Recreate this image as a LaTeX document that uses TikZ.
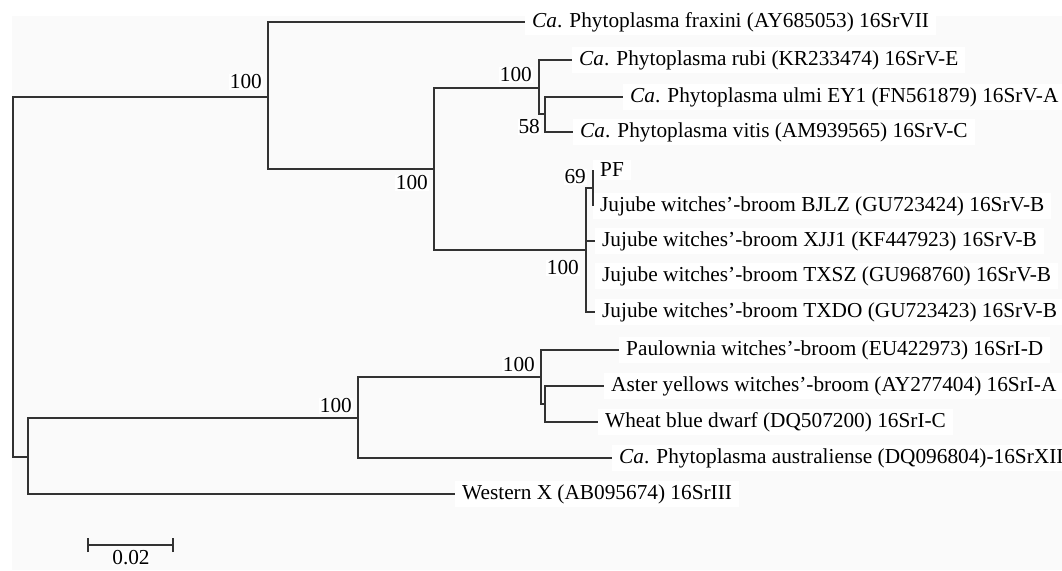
\documentclass[tikz,border=0pt]{standalone}
\usepackage{fontspec}
\setmainfont{Liberation Serif}
\definecolor{bggray}{RGB}{250,250,250}
\definecolor{linegray}{RGB}{50,50,50}
\begin{document}
\begin{tikzpicture}[x=1pt, y=-1pt,
  every node/.style = {shape=rectangle, align=center, text=black,
    font=\fontsize{21.3}{24}\selectfont},
  leaf/.style = {anchor=west, fill=white, inner xsep=7pt, inner ysep=3pt},
  boot/.style = {anchor=east, fill=white, inner sep=1pt},
  branch/.style = {draw=linegray, line width=2pt}]
\useasboundingbox (0,0) rectangle (1062,570);
\fill[white] (0,0) rectangle (1062,570);
\fill[bggray] (12,16) rectangle (1062,570);
\coordinate (root) at (13,277);
\coordinate (a) at (268,97);
\coordinate (b) at (434,169);
\coordinate (c) at (539,88);
\coordinate (c2) at (545,114);
\coordinate (j) at (586,250);
\coordinate (p) at (593,188);
\coordinate (d) at (28,457);
\coordinate (e) at (358,418);
\coordinate (f) at (541,377);
\coordinate (f2) at (545,404);
\node[leaf] (fraxini) at (525,22) {\textit{Ca}. Phytoplasma fraxini (AY685053) 16SrVII};
\node[leaf] (rubi) at (572,60) {\textit{Ca}. Phytoplasma rubi (KR233474) 16SrV-E};
\node[leaf] (ulmi) at (623,97) {\textit{Ca}. Phytoplasma ulmi EY1 (FN561879) 16SrV-A};
\node[leaf] (vitis) at (573,132) {\textit{Ca}. Phytoplasma vitis (AM939565) 16SrV-C};
\node[leaf] (pf) at (593,170) {PF};
\node[leaf] (bjlz) at (593,206) {Jujube witches’-broom BJLZ (GU723424) 16SrV-B};
\node[leaf] (xjj1) at (595,241) {Jujube witches’-broom XJJ1 (KF447923) 16SrV-B};
\node[leaf] (txsz) at (595,276) {Jujube witches’-broom TXSZ (GU968760) 16SrV-B};
\node[leaf] (txdo) at (595,312) {Jujube witches’-broom TXDO (GU723423) 16SrV-B};
\node[leaf] (paulownia) at (619,350) {Paulownia witches’-broom (EU422973) 16SrI-D};
\node[leaf] (aster) at (604,386) {Aster yellows witches’-broom (AY277404) 16SrI-A};
\node[leaf] (wheat) at (598,422) {Wheat blue dwarf (DQ507200) 16SrI-C};
\node[leaf] (austr) at (612,458) {\textit{Ca}. Phytoplasma australiense (DQ096804)-16SrXII};
\node[leaf] (western) at (455,494) {Western X (AB095674) 16SrIII};
\node[boot] (bs-a) at (263,82) {100};
\node[boot] (bs-b) at (429,183) {100};
\node[boot] (bs-c) at (533,75) {100};
\node[boot] (bs-c2) at (541,127) {58};
\node[boot] (bs-p) at (587,177) {69};
\node[boot] (bs-j) at (580,268) {100};
\node[boot] (bs-e) at (353,406) {100};
\node[boot] (bs-f) at (536,365) {100};
\coordinate (bar-l) at (88,545);
\coordinate (bar-r) at (173,545);
\node[fill=white, inner sep=0pt] (bar-txt) at (131,558) {0.02};
\draw[branch] (root) |- (a);
\draw[branch] (root) |- (d);
\draw[branch] (a) |- (fraxini.west);
\draw[branch] (a) |- (b);
\draw[branch] (b) |- (c);
\draw[branch] (b) |- (j);
\draw[branch] (c) |- (rubi.west);
\draw[branch] (c) |- (c2);
\draw[branch] (c2) |- (ulmi.west);
\draw[branch] (c2) |- (vitis.west);
\draw[branch] (j) |- (p);
\draw[branch] (j) |- (xjj1.west);
\draw[branch] (j) |- (txdo.west);
\draw[branch] (p) |- (pf.west);
\draw[branch] (p) |- (bjlz.west);
\draw[branch] (d) |- (e);
\draw[branch] (d) |- (western.west);
\draw[branch] (e) |- (f);
\draw[branch] (e) |- (austr.west);
\draw[branch] (f) |- (paulownia.west);
\draw[branch] (f) |- (f2);
\draw[branch] (f2) |- (aster.west);
\draw[branch] (f2) |- (wheat.west);
\draw[branch] (bar-l) -- (bar-r);
\draw[branch] ([yshift=-7pt]bar-l) -- ([yshift=7pt]bar-l);
\draw[branch] ([yshift=-7pt]bar-r) -- ([yshift=7pt]bar-r);
\end{tikzpicture}
\end{document}
